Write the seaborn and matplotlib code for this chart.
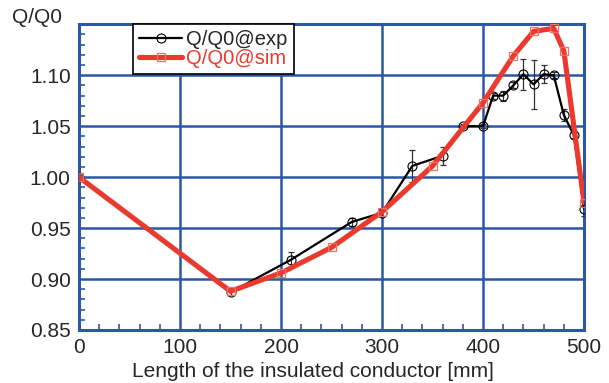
import matplotlib
matplotlib.use("Agg")
import matplotlib.pyplot as plt
import seaborn as sns
import numpy as np
from matplotlib.ticker import MultipleLocator

# experiment
exp_x = [0, 150, 210, 270, 300, 330, 360, 380, 400, 410, 420, 430, 440, 450, 460, 470, 480, 490, 500]
exp_y = [1.000, 0.887, 0.919, 0.956, 0.965, 1.011, 1.021, 1.050, 1.050, 1.080, 1.080, 1.090, 1.101, 1.091, 1.101, 1.100, 1.061, 1.041, 0.969]
exp_err = [0.002, 0.003, 0.008, 0.004, 0.003, 0.016, 0.009, 0.002, 0.002, 0.003, 0.005, 0.003, 0.015, 0.024, 0.009, 0.003, 0.006, 0.003, 0.007]

# simulation
sim_x = [0, 150, 200, 250, 300, 350, 400, 430, 450, 470, 480, 500]
sim_y = [1.000, 0.888, 0.906, 0.931, 0.966, 1.011, 1.073, 1.119, 1.143, 1.146, 1.124, 0.975]

blue = "#2c56a6"
red = "#ea3a2e"

sns.set_style("white")
plt.rcParams["font.family"] = ["Liberation Sans", "DejaVu Sans"]

fig = plt.figure(figsize=(6.09, 3.83), dpi=100)
ax = fig.add_axes([0.1297, 0.1384, 0.8293, 0.7982])

ax.errorbar(exp_x, exp_y, yerr=exp_err, fmt="none", ecolor="#333333",
            elinewidth=0.9, capsize=2.5, capthick=0.9, zorder=3)
sns.lineplot(x=exp_x, y=exp_y, ax=ax, color="black", lw=1.6, marker="o",
             ms=6.5, mfc="none", mec="black", mew=0.8, label="Q/Q0@exp", zorder=4)
sns.lineplot(x=sim_x, y=sim_y, ax=ax, color=red, lw=3.7, marker="s",
             ms=5.5, mfc="none", mec="#f07068", mew=0.9, label="Q/Q0@sim", zorder=5)

ax.set_xlim(0, 500)
ax.set_ylim(0.85, 1.15)
ax.set_xticks([0, 100, 200, 300, 400, 500])
ax.set_yticks([0.85, 0.90, 0.95, 1.00, 1.05, 1.10])
ax.set_yticklabels(["0.85", "0.90", "0.95", "1.00", "1.05", "1.10"])
ax.xaxis.set_minor_locator(MultipleLocator(20))
ax.yaxis.set_minor_locator(MultipleLocator(0.01))
ax.grid(True, which="major", color=blue, lw=1.8)
ax.tick_params(which="major", length=0, labelsize=15, pad=6)
ax.tick_params(which="minor", direction="in", length=4, width=1.2, color=blue,
               bottom=True, left=True)
for s in ax.spines.values():
    s.set_color(blue)
    s.set_linewidth(2.2)

ax.set_xlabel("Length of the insulated conductor [mm]", fontsize=15, labelpad=2)
ax.xaxis.set_label_coords(0.463, -0.105)
ax.set_ylabel("")
fig.text(0.02, 0.93, "Q/Q0", fontsize=15, ha="left", va="bottom")

leg = ax.legend(loc="upper left", bbox_to_anchor=(0.107, 1.0), fontsize=14.5,
                frameon=True, fancybox=False, framealpha=1, edgecolor="black",
                borderpad=0.3, labelspacing=0.0, handlelength=2.15,
                handletextpad=0.2, borderaxespad=0)
leg.get_frame().set_linewidth(1.2)
leg.texts[1].set_color(red)

fig.savefig("out.png", dpi=100)
